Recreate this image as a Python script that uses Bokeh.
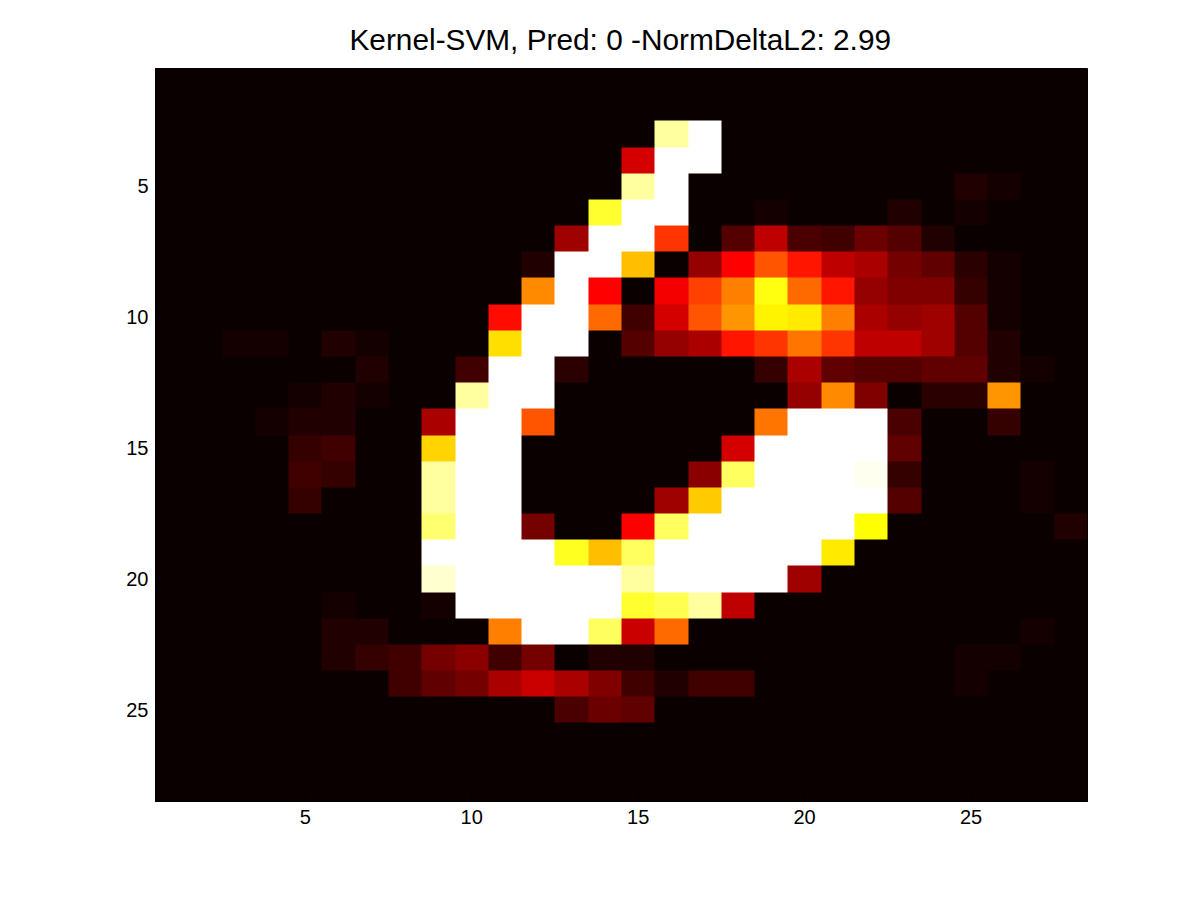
import numpy as np
from bokeh.plotting import figure
from bokeh.models import LinearColorMapper, FixedTicker
from bokeh.embed import file_html
from bokeh.resources import INLINE

TITLE = "Kernel-SVM, Pred: 0 -NormDeltaL2: 2.99"
x_ticks = [5, 10, 15, 20, 25]
y_ticks = [5, 10, 15, 20, 25]

# colour level (1..64) of each cell, row 1 at the top
levels = [
 [1,1,1,1,1,1,1,1,1,1,1,1,1,1,1,1,1,1,1,1,1,1,1,1,1,1,1,1],
 [1,1,1,1,1,1,1,1,1,1,1,1,1,1,1,1,1,1,1,1,1,1,1,1,1,1,1,1],
 [1,1,1,1,1,1,1,1,1,1,1,1,1,1,1,58,64,1,1,1,1,1,1,1,1,1,1,1],
 [1,1,1,1,1,1,1,1,1,1,1,1,1,1,20,64,64,1,1,1,1,1,1,1,1,1,1,1],
 [1,1,1,1,1,1,1,1,1,1,1,1,1,1,58,64,1,1,1,1,1,1,1,1,3,2,1,1],
 [1,1,1,1,1,1,1,1,1,1,1,1,1,51,64,64,1,1,2,1,1,1,3,1,2,1,1,1],
 [1,1,1,1,1,1,1,1,1,1,1,1,15,64,64,29,1,8,18,7,6,10,8,3,1,1,1,1],
 [1,1,1,1,1,1,1,1,1,1,1,3,64,64,42,1,14,24,32,26,18,16,11,9,4,2,1,1],
 [1,1,1,1,1,1,1,1,1,1,1,37,64,24,1,23,30,36,49,34,26,14,12,12,5,2,1,1],
 [1,1,1,1,1,1,1,1,1,1,25,64,64,34,6,20,32,38,47,46,36,16,14,15,8,2,1,1],
 [1,1,2,2,1,3,2,1,1,1,45,64,64,1,8,14,16,26,29,35,29,18,18,15,8,3,1,1],
 [1,1,1,1,1,1,3,1,1,6,64,64,4,1,1,1,1,1,5,16,9,8,8,9,9,3,2,1],
 [1,1,1,1,2,3,2,1,1,58,64,64,1,1,1,1,1,1,1,14,37,12,1,4,4,38,1,1],
 [1,1,1,2,3,3,1,1,16,64,64,32,1,1,1,1,1,1,35,64,64,64,7,1,1,5,1,1],
 [1,1,1,1,5,6,1,1,44,64,64,1,1,1,1,1,1,20,64,64,64,64,9,1,1,1,1,1],
 [1,1,1,1,6,5,1,1,58,64,64,1,1,1,1,1,13,54,64,64,64,63,5,1,1,1,2,1],
 [1,1,1,1,5,1,1,1,58,64,64,1,1,1,1,15,43,64,64,64,64,64,8,1,1,1,2,1],
 [1,1,1,1,1,1,1,1,55,64,64,11,1,1,24,54,64,64,64,64,64,48,1,1,1,1,1,3],
 [1,1,1,1,1,1,1,1,64,64,64,64,50,42,54,64,64,64,64,64,46,1,1,1,1,1,1,1],
 [1,1,1,1,1,1,1,1,61,64,64,64,64,64,58,64,64,64,64,15,1,1,1,1,1,1,1,1],
 [1,1,1,1,1,2,1,1,2,64,64,64,64,64,51,53,58,18,1,1,1,1,1,1,1,1,1,1],
 [1,1,1,1,1,3,3,1,1,1,36,64,64,54,19,34,1,1,1,1,1,1,1,1,1,1,2,1],
 [1,1,1,1,1,3,5,6,11,13,6,11,1,3,3,1,1,1,1,1,1,1,1,1,2,2,1,1],
 [1,1,1,1,1,1,1,6,9,11,16,19,16,12,6,3,6,6,1,1,1,1,1,1,2,1,1,1],
 [1,1,1,1,1,1,1,1,1,1,1,1,7,10,9,1,1,1,1,1,1,1,1,1,1,1,1,1],
 [1,1,1,1,1,1,1,1,1,1,1,1,1,1,1,1,1,1,1,1,1,1,1,1,1,1,1,1],
 [1,1,1,1,1,1,1,1,1,1,1,1,1,1,1,1,1,1,1,1,1,1,1,1,1,1,1,1],
 [1,1,1,1,1,1,1,1,1,1,1,1,1,1,1,1,1,1,1,1,1,1,1,1,1,1,1,1],
]

# 64-step "hot" colour map
def hot(i):
    r = min(i / 24, 1.0)
    g = min(max(i - 24, 0) / 24, 1.0)
    b = min(max(i - 48, 0) / 16, 1.0)
    return "#%02x%02x%02x" % (round(r * 255), round(g * 255), round(b * 255))

palette = [hot(i) for i in range(1, 65)]
mapper = LinearColorMapper(palette=palette, low=0.5, high=64.5)

p = figure(width=1184, height=884, x_range=(0.5, 28.5), y_range=(28.5, 0.5),
           output_backend="svg", toolbar_location=None,
           min_border_left=155, min_border_right=97, min_border_top=68, min_border_bottom=83,
           background_fill_color="#0a0000", border_fill_color="white")

# the y axis runs downward, so the first row of the array lands at the top
p.image(image=[np.array(levels, dtype=float)], x=0.5, y=0.5, dw=28, dh=28, color_mapper=mapper)

p.title.text = TITLE
p.title.align = "left"
p.title.offset = 194
p.title.text_font = "Liberation Sans"
p.title.text_font_size = "29.8px"
p.title.text_font_style = "normal"
p.title.text_color = "black"
p.title.standoff = 26

p.grid.visible = False
p.outline_line_color = "black"
for ax, ticks in ((p.xaxis, x_ticks), (p.yaxis, y_ticks)):
    ax.ticker = FixedTicker(ticks=ticks)
    ax.major_label_text_font = "Liberation Sans"
    ax.major_label_text_font_size = "20px"
    ax.major_label_text_color = "black"
    ax.major_tick_in = 9
    ax.major_tick_out = 0
    ax.minor_tick_in = 0
    ax.minor_tick_out = 0
    ax.major_tick_line_color = "black"
    ax.axis_line_color = "black"
p.xaxis.major_label_standoff = 8
p.yaxis.major_label_standoff = 7

open("out.html", "w").write(file_html(p, INLINE))
